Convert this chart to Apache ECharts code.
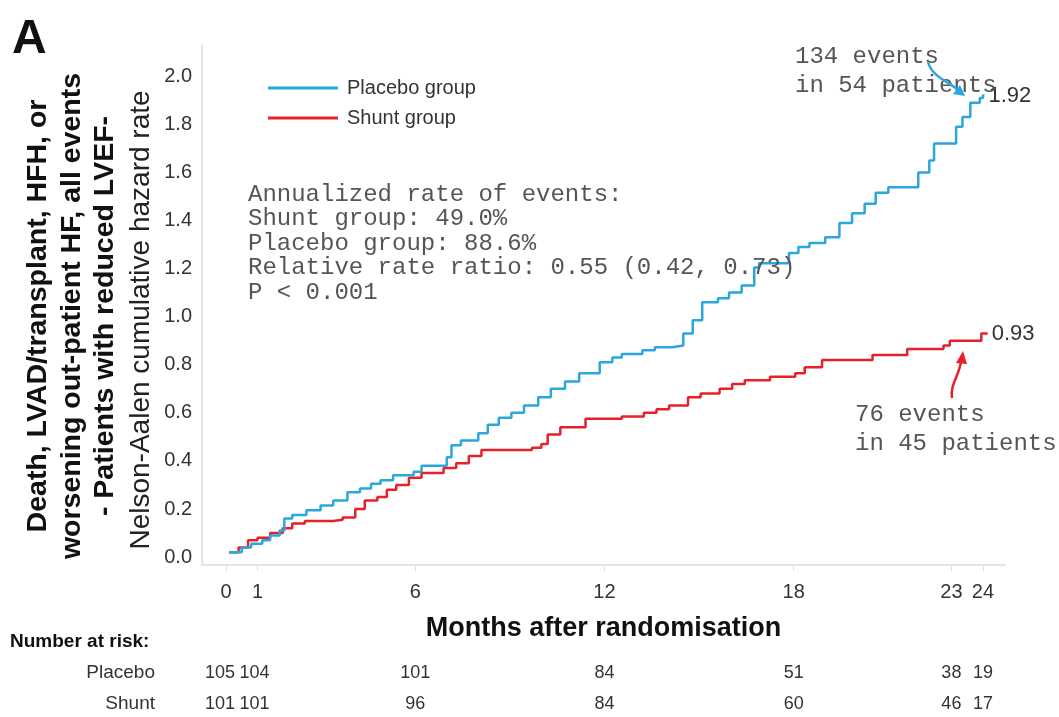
<!DOCTYPE html>
<html>
<head>
<meta charset="utf-8">
<title>Nelson-Aalen</title>
<script src="https://cdn.jsdelivr.net/npm/echarts@6/dist/echarts.min.js"></script>
<style>
  html, body { margin: 0; height: 100%; background: #fff; }
  #main { width: 1059px; height: 717px; }
</style>
</head>
<body>
<div id="main"></div>
<script>
// cumulative hazard (months, value)
const placeboMonths = [0.1,0.5,0.8,1.15,1.4,1.7,1.85,2.1,2.55,3.0,3.4,3.85,4.25,4.6,4.9,5.3,5.95,6.2,7.0,7.15,7.45,8.0,8.3,8.65,9.05,9.45,9.9,10.3,10.75,11.2,11.85,12.25,12.55,13.2,13.6,14.15,14.5,14.8,15.1,15.6,15.95,16.35,16.75,16.9,17.85,18.15,18.5,19.0,19.45,19.85,20.25,20.6,21.0,21.95,22.3,22.45,23.15,23.35,23.6,23.9,24.0,24.05];
const placeboValues = [0.02,0.04,0.055,0.07,0.09,0.11,0.16,0.175,0.195,0.215,0.235,0.27,0.285,0.305,0.32,0.34,0.355,0.38,0.415,0.465,0.485,0.515,0.55,0.58,0.60,0.63,0.665,0.70,0.73,0.765,0.81,0.83,0.845,0.86,0.873,0.88,0.93,0.985,1.06,1.077,1.10,1.13,1.205,1.222,1.265,1.29,1.306,1.33,1.39,1.43,1.47,1.515,1.538,1.60,1.65,1.72,1.79,1.83,1.89,1.91,1.92,1.92];

const shuntMonths = [0.1,0.4,0.7,1.0,1.4,1.8,2.1,2.5,3.4,3.7,4.1,4.4,4.8,5.1,5.4,5.8,6.2,6.9,7.3,7.7,8.1,9.7,10.0,10.2,10.6,11.4,12.55,13.25,13.65,14.05,14.65,15.05,15.65,16.05,16.45,17.25,18.05,18.35,18.9,20.5,21.6,22.75,22.95,23.95,24.15];
const shuntValues = [0.02,0.04,0.07,0.08,0.10,0.12,0.14,0.15,0.155,0.165,0.20,0.235,0.25,0.28,0.30,0.33,0.35,0.37,0.39,0.42,0.445,0.455,0.47,0.51,0.54,0.575,0.585,0.60,0.615,0.63,0.665,0.68,0.70,0.72,0.735,0.75,0.765,0.79,0.82,0.84,0.865,0.88,0.90,0.93,0.93];

// axis ticks and number at risk
const xTicks = [0, 1, 6, 12, 18, 23, 24];
const yTicks = [0, 0.2, 0.4, 0.6, 0.8, 1.0, 1.2, 1.4, 1.6, 1.8, 2.0];
const placeboAtRisk = [105, 104, 101, 84, 51, 38, 19];
const shuntAtRisk = [101, 101, 96, 84, 60, 46, 17];

const statLines = [
    'Annualized rate of events:',
    'Shunt group: 49.0%',
    'Placebo group: 88.6%',
    'Relative rate ratio: 0.55 (0.42, 0.73)',
    'P < 0.001'
];

const BLUE = '#2aa7dc';
const RED = '#e62129';
const SANS = '"Liberation Sans", Arial, sans-serif';
const MONO = '"Liberation Mono", "Courier New", monospace';

const zip = (xs, ys) => xs.map((x, i) => [x, ys[i]]);

const chart = echarts.init(document.getElementById('main'));

const option = {
    animation: false,
    grid: { left: 202, right: 54, top: 45, bottom: 152 },
    legend: {
        data: ['Placebo group', 'Shunt group'],
        orient: 'vertical',
        left: 263,
        top: 73,
        icon: 'rect',
        itemWidth: 70,
        itemHeight: 3,
        itemGap: 10,
        textStyle: { fontFamily: SANS, fontSize: 20, color: '#333', padding: [0, 0, 0, 4] }
    },
    xAxis: {
        type: 'value',
        min: -0.76,
        max: 24.7,
        name: 'Months after randomisation',
        nameLocation: 'middle',
        nameGap: 50,
        nameTextStyle: { fontFamily: SANS, fontSize: 27, fontWeight: 'bold', color: '#111' },
        axisLine: { show: true, onZero: false, lineStyle: { color: '#dcdcdc', width: 1.5 } },
        axisTick: { show: true, customValues: xTicks, length: 6, lineStyle: { color: '#dcdcdc' } },
        axisLabel: { customValues: xTicks, margin: 17, fontFamily: SANS, fontSize: 20, color: '#333' },
        splitLine: { show: false }
    },
    yAxis: {
        type: 'value',
        min: -0.033,
        max: 2.13,
        axisLine: { show: true, onZero: false, lineStyle: { color: '#dcdcdc', width: 1.5 } },
        axisTick: { show: false },
        axisLabel: {
            customValues: yTicks, margin: 10, fontFamily: SANS, fontSize: 20, color: '#333',
            formatter: v => v.toFixed(1)
        },
        splitLine: { show: false }
    },
    series: [
        {
            name: 'Shunt group',
            type: 'line',
            step: 'end',
            showSymbol: false,
            data: zip(shuntMonths, shuntValues),
            lineStyle: { color: RED, width: 2.5 },
            itemStyle: { color: RED },
            endLabel: {
                show: true, distance: 4, fontFamily: SANS, fontSize: 22, color: '#333',
                formatter: p => p.value[1].toFixed(2)
            }
        },
        {
            name: 'Placebo group',
            type: 'line',
            step: 'end',
            showSymbol: false,
            data: zip(placeboMonths, placeboValues),
            lineStyle: { color: BLUE, width: 2.5 },
            itemStyle: { color: BLUE },
            endLabel: {
                show: true, distance: 4, fontFamily: SANS, fontSize: 22, color: '#333',
                formatter: p => p.value[1].toFixed(2)
            }
        }
    ]
};
chart.setOption(option);

// texts and arrows drawn on top
const txt = (x, y, text, font, extra) => ({
    type: 'text', x: x, y: y, z: 10,
    style: Object.assign({ text: text, font: font, fill: '#333' }, extra || {})
});

const graphics = [
    txt(12, 16, 'A', 'bold 48px ' + SANS, { fill: '#111' }),
    {
        type: 'text', x: 72, y: 316, rotation: Math.PI / 2, z: 10,
        style: {
            text: 'Death, LVAD/transplant, HFH, or\nworsening out-patient HF, all events\n- Patients with reduced LVEF-',
            font: 'bold 28.5px ' + SANS, fill: '#111', lineHeight: 33.5,
            textAlign: 'center', textVerticalAlign: 'middle'
        }
    },
    {
        type: 'text', x: 141, y: 320, rotation: Math.PI / 2, z: 10,
        style: {
            text: 'Nelson-Aalen cumulative hazard rate',
            font: '28px ' + SANS, fill: '#222',
            textAlign: 'center', textVerticalAlign: 'middle'
        }
    },
    txt(248, 182, statLines.join('\n'), '24px ' + MONO, { fill: '#555', lineHeight: 24.5 }),
    txt(795, 42, '134 events\nin 54 patients', '24px ' + MONO, { fill: '#555', lineHeight: 29 }),
    txt(855, 400, '76 events\nin 45 patients', '24px ' + MONO, { fill: '#555', lineHeight: 29 }),
    {
        type: 'bezierCurve', z: 11,
        shape: { x1: 928, y1: 62, cpx1: 932, cpy1: 76, cpx2: 945, cpy2: 80, x2: 957, y2: 89 },
        style: { stroke: BLUE, lineWidth: 2.5, fill: null }
    },
    { type: 'polygon', z: 11, shape: { points: [[965, 96], [953, 94], [960, 85]] }, style: { fill: BLUE } },
    {
        type: 'bezierCurve', z: 11,
        shape: { x1: 952, y1: 398, cpx1: 950, cpy1: 385, cpx2: 958, cpy2: 378, x2: 961, y2: 362 },
        style: { stroke: RED, lineWidth: 2.5, fill: null }
    },
    { type: 'polygon', z: 11, shape: { points: [[963, 351], [956, 363], [967, 364]] }, style: { fill: RED } },
    txt(10, 642, 'Number at risk:', 'bold 19px ' + SANS, { fill: '#111', textVerticalAlign: 'middle' }),
    txt(155, 673, 'Placebo', '19px ' + SANS, { textAlign: 'right', textVerticalAlign: 'middle' }),
    txt(155, 704, 'Shunt', '19px ' + SANS, { textAlign: 'right', textVerticalAlign: 'middle' })
];

// number at risk placed under the matching month
xTicks.forEach((m, i) => {
    const px = chart.convertToPixel({ gridIndex: 0 }, [m, 0])[0];
    const shift = m === 0 ? -6 : (m === 1 ? -3 : 0);
    graphics.push(txt(px + shift, 673, String(placeboAtRisk[i]), '18px ' + SANS, { textAlign: 'center', textVerticalAlign: 'middle' }));
    graphics.push(txt(px + shift, 704, String(shuntAtRisk[i]), '18px ' + SANS, { textAlign: 'center', textVerticalAlign: 'middle' }));
});

chart.setOption({ graphic: graphics });

window.addEventListener('resize', () => chart.resize());
</script>
</body>
</html>
